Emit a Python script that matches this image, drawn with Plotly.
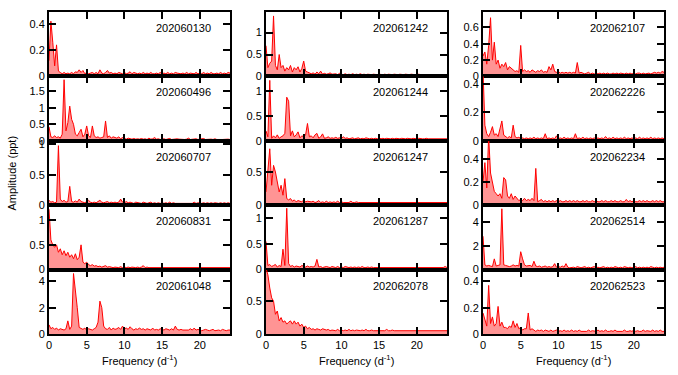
import plotly.graph_objects as go
from plotly.subplots import make_subplots

# ── Data ──────────────────────────────────────────────────────────────────────
FREQ_STEP = 0.25          # spectra sampled every 0.25 d^-1 from 0 to 24
X_TICKS = [0, 5, 10, 15, 20]

# panels are listed column by column, top to bottom
STARS = ["202060130", "202060496", "202060707", "202060831", "202061048",
         "202061242", "202061244", "202061247", "202061287", "202062078",
         "202062107", "202062226", "202062234", "202062514", "202062523"]

Y_MAX = [0.49, 1.95, 1.06, 1.3, 4.9,
         1.47, 1.3, 0.97, 1.26, 0.98,
         0.79, 0.454, 0.56, 5.4, 0.49]

Y_TICKS = [[0, 0.2, 0.4], [0, 0.5, 1, 1.5], [0, 0.5, 1], [0, 0.5, 1], [0, 2, 4],
           [0, 0.5, 1], [0, 0.5, 1], [0, 0.5], [0, 0.5, 1], [0, 0.5],
           [0, 0.2, 0.4, 0.6], [0, 0.2, 0.4], [0, 0.2, 0.4], [0, 2, 4], [0, 0.2, 0.4]]

AMP_202060130 = [
    0.12, 0.42, 0.26, 0.08, 0.24, 0.04, 0.03, 0.02, 0.03, 0.02, 0.025, 0.02,
    0.03, 0.02, 0.035, 0.03, 0.05, 0.03, 0.045, 0.02, 0.03, 0.02, 0.025, 0.03,
    0.02, 0.03, 0.02, 0.05, 0.025, 0.02, 0.03, 0.045, 0.025, 0.03, 0.02, 0.025,
    0.02, 0.03, 0.025, 0.02, 0.03, 0.02, 0.025, 0.035, 0.02, 0.03, 0.025, 0.02,
    0.025, 0.02, 0.03, 0.02, 0.025, 0.02, 0.03, 0.02, 0.02, 0.025, 0.02, 0.03,
    0.02, 0.025, 0.02, 0.03, 0.02, 0.025, 0.02, 0.03, 0.025, 0.02, 0.02, 0.025,
    0.02, 0.03, 0.02, 0.025, 0.02, 0.02, 0.03, 0.02, 0.025, 0.02, 0.03, 0.02,
    0.025, 0.02, 0.03, 0.02, 0.02, 0.025, 0.02, 0.03, 0.02, 0.025, 0.02, 0.03,
    0.025]

AMP_202060496 = [
    0.42, 0.12, 0.1, 0.15, 0.1, 0.12, 0.08, 0.2, 1.85, 0.3, 0.55, 1.05,
    0.65, 0.5, 0.2, 0.15, 0.25, 0.35, 0.12, 0.2, 0.45, 0.15, 0.1, 0.45,
    0.15, 0.1, 0.12, 0.08, 0.1, 0.12, 0.6, 0.1, 0.15, 0.08, 0.12, 0.1,
    0.08, 0.12, 0.06, 0.1, 0.07, 0.05, 0.08, 0.06, 0.05, 0.07, 0.05, 0.06,
    0.05, 0.07, 0.05, 0.06, 0.04, 0.08, 0.05, 0.06, 0.1, 0.05, 0.06, 0.04,
    0.05, 0.06, 0.04, 0.05, 0.07, 0.04, 0.05, 0.04, 0.06, 0.05, 0.04, 0.05,
    0.04, 0.05, 0.08, 0.04, 0.05, 0.04, 0.06, 0.04, 0.05, 0.04, 0.07, 0.04,
    0.05, 0.04, 0.05, 0.04, 0.06, 0.04, 0.05, 0.04, 0.04, 0.05, 0.04, 0.05,
    0.04]

AMP_202060707 = [
    0.08, 0.05, 0.06, 0.04, 0.05, 0.98, 0.1, 0.06, 0.08, 0.05, 0.06, 0.31,
    0.06, 0.05, 0.07, 0.05, 0.1, 0.06, 0.05, 0.04, 0.06, 0.08, 0.05, 0.04,
    0.05, 0.04, 0.06, 0.08, 0.05, 0.04, 0.05, 0.06, 0.04, 0.05, 0.04, 0.05,
    0.04, 0.05, 0.1, 0.05, 0.04, 0.06, 0.04, 0.05, 0.04, 0.03, 0.05, 0.04,
    0.04, 0.03, 0.05, 0.04, 0.03, 0.04, 0.05, 0.03, 0.04, 0.03, 0.04, 0.03,
    0.04, 0.03, 0.04, 0.03, 0.05, 0.03, 0.04, 0.03, 0.03, 0.04, 0.03, 0.04,
    0.03, 0.04, 0.03, 0.04, 0.03, 0.05, 0.03, 0.04, 0.03, 0.03, 0.04, 0.03,
    0.04, 0.03, 0.04, 0.03, 0.04, 0.03, 0.03, 0.04, 0.03, 0.04, 0.03, 0.04,
    0.03]

AMP_202060831 = [
    1.22, 0.6, 0.5, 0.45, 0.5, 0.35, 0.42, 0.3, 0.38, 0.28, 0.35, 0.25,
    0.3, 0.22, 0.32, 0.2, 0.25, 0.5, 0.15, 0.12, 0.15, 0.1, 0.08, 0.1,
    0.07, 0.08, 0.06, 0.07, 0.05, 0.06, 0.08, 0.05, 0.06, 0.05, 0.04, 0.05,
    0.05, 0.04, 0.06, 0.04, 0.05, 0.04, 0.05, 0.04, 0.05, 0.04, 0.04, 0.05,
    0.04, 0.05, 0.08, 0.04, 0.05, 0.04, 0.04, 0.05, 0.04, 0.04, 0.05, 0.04,
    0.04, 0.05, 0.04, 0.04, 0.05, 0.04, 0.04, 0.05, 0.04, 0.04, 0.05, 0.04,
    0.04, 0.04, 0.05, 0.04, 0.04, 0.05, 0.04, 0.04, 0.05, 0.04, 0.04, 0.05,
    0.04, 0.05, 0.04, 0.04, 0.05, 0.04, 0.04, 0.05, 0.04, 0.04, 0.05, 0.04,
    0.04]

AMP_202061048 = [
    0.7, 0.4, 0.5, 0.35, 0.45, 0.3, 0.4, 0.35, 0.3, 0.4, 1.0, 0.35,
    0.6, 4.6, 3.4, 2.0, 0.5, 0.4, 0.35, 0.45, 0.3, 0.4, 0.35, 0.3,
    0.4, 0.5, 0.9, 2.5, 2.0, 0.6, 0.4, 0.35, 0.5, 0.3, 0.45, 0.35,
    0.4, 0.5, 0.35, 0.6, 0.4, 0.45, 0.35, 0.55, 0.4, 0.3, 0.4, 0.35,
    0.45, 0.35, 0.4, 0.3, 0.4, 0.35, 0.3, 0.45, 0.3, 0.35, 0.3, 0.4,
    0.35, 0.3, 0.4, 0.35, 0.3, 0.4, 0.3, 0.6, 0.35, 0.3, 0.35, 0.3,
    0.3, 0.35, 0.3, 0.4, 0.3, 0.45, 0.3, 0.35, 0.3, 0.25, 0.3, 0.35,
    0.3, 0.25, 0.3, 0.35, 0.25, 0.3, 0.3, 0.25, 0.35, 0.3, 0.25, 0.3,
    0.3]

AMP_202061242 = [
    0.7, 0.2, 0.3, 0.35, 1.38, 0.25, 0.15, 0.5, 0.2, 0.25, 0.12, 0.2,
    0.15, 0.25, 0.1, 0.2, 0.15, 0.22, 0.1, 0.18, 0.35, 0.12, 0.1, 0.08,
    0.06, 0.08, 0.05, 0.1, 0.06, 0.12, 0.05, 0.07, 0.05, 0.06, 0.08, 0.05,
    0.05, 0.06, 0.04, 0.07, 0.05, 0.04, 0.06, 0.04, 0.05, 0.04, 0.06, 0.04,
    0.05, 0.04, 0.06, 0.04, 0.05, 0.04, 0.05, 0.04, 0.04, 0.05, 0.04, 0.04,
    0.05, 0.04, 0.04, 0.05, 0.04, 0.05, 0.04, 0.04, 0.05, 0.04, 0.04, 0.05,
    0.04, 0.04, 0.05, 0.04, 0.04, 0.05, 0.04, 0.04, 0.04, 0.05, 0.04, 0.04,
    0.05, 0.04, 0.04, 0.05, 0.04, 0.04, 0.05, 0.04, 0.04, 0.04, 0.05, 0.04,
    0.04]

AMP_202061244 = [
    0.2, 0.08, 1.22, 0.05, 0.1, 0.06, 0.12, 0.05, 0.08, 0.1, 0.15, 0.88,
    0.8, 0.1, 0.2, 0.08, 0.12, 0.18, 0.06, 0.1, 0.08, 0.12, 0.35, 0.08,
    0.1, 0.06, 0.12, 0.15, 0.05, 0.08, 0.14, 0.05, 0.06, 0.08, 0.05, 0.06,
    0.05, 0.07, 0.05, 0.06, 0.05, 0.08, 0.05, 0.06, 0.04, 0.05, 0.06, 0.04,
    0.05, 0.06, 0.04, 0.05, 0.04, 0.06, 0.05, 0.04, 0.05, 0.04, 0.05, 0.04,
    0.06, 0.04, 0.05, 0.04, 0.05, 0.04, 0.04, 0.05, 0.04, 0.05, 0.04, 0.04,
    0.05, 0.04, 0.04, 0.05, 0.04, 0.04, 0.05, 0.04, 0.04, 0.05, 0.04, 0.04,
    0.04, 0.05, 0.04, 0.04, 0.05, 0.04, 0.04, 0.04, 0.05, 0.04, 0.04, 0.05,
    0.04]

AMP_202061247 = [
    0.2, 0.6, 0.85, 0.3, 0.6, 0.5, 0.35, 0.2, 0.3, 0.15, 0.4, 0.1,
    0.08, 0.1, 0.06, 0.08, 0.05, 0.07, 0.06, 0.05, 0.08, 0.05, 0.06, 0.05,
    0.05, 0.06, 0.04, 0.05, 0.07, 0.04, 0.05, 0.04, 0.06, 0.04, 0.05, 0.04,
    0.05, 0.04, 0.06, 0.04, 0.05, 0.04, 0.04, 0.05, 0.04, 0.06, 0.04, 0.04,
    0.05, 0.04, 0.04, 0.05, 0.04, 0.04, 0.05, 0.04, 0.04, 0.04, 0.05, 0.04,
    0.04, 0.05, 0.04, 0.04, 0.04, 0.05, 0.04, 0.04, 0.05, 0.04, 0.04, 0.04,
    0.04, 0.04, 0.05, 0.04, 0.04, 0.04, 0.05, 0.04, 0.04, 0.04, 0.04, 0.05,
    0.04, 0.04, 0.04, 0.05, 0.04, 0.04, 0.04, 0.04, 0.05, 0.04, 0.04, 0.04,
    0.04]

AMP_202061287 = [
    0.55, 0.08, 0.1, 0.06, 0.08, 0.1, 0.05, 0.08, 0.06, 0.4, 0.08, 1.2,
    0.12, 0.06, 0.08, 0.05, 0.07, 0.06, 0.05, 0.08, 0.06, 0.05, 0.07, 0.05,
    0.06, 0.05, 0.07, 0.2, 0.05, 0.06, 0.04, 0.05, 0.06, 0.05, 0.04, 0.06,
    0.05, 0.04, 0.06, 0.04, 0.05, 0.04, 0.06, 0.05, 0.04, 0.05, 0.04, 0.05,
    0.04, 0.05, 0.04, 0.06, 0.04, 0.04, 0.05, 0.04, 0.05, 0.04, 0.04, 0.05,
    0.04, 0.04, 0.05, 0.04, 0.04, 0.05, 0.04, 0.04, 0.04, 0.05, 0.04, 0.04,
    0.05, 0.04, 0.04, 0.04, 0.05, 0.04, 0.04, 0.05, 0.04, 0.04, 0.04, 0.05,
    0.04, 0.04, 0.05, 0.04, 0.04, 0.04, 0.05, 0.04, 0.04, 0.05, 0.04, 0.06,
    0.04]

AMP_202062078 = [
    1.0, 0.9, 0.7, 0.55, 0.5, 0.3, 0.35, 0.2, 0.25, 0.18, 0.2, 0.15,
    0.18, 0.2, 0.15, 0.2, 0.15, 0.18, 0.12, 0.15, 0.1, 0.12, 0.08, 0.1,
    0.07, 0.08, 0.06, 0.08, 0.07, 0.06, 0.08, 0.07, 0.06, 0.07, 0.05, 0.06,
    0.06, 0.05, 0.07, 0.05, 0.06, 0.05, 0.06, 0.05, 0.07, 0.05, 0.06, 0.05,
    0.06, 0.05, 0.05, 0.06, 0.05, 0.07, 0.05, 0.05, 0.06, 0.05, 0.05, 0.06,
    0.05, 0.06, 0.05, 0.05, 0.07, 0.05, 0.05, 0.06, 0.05, 0.05, 0.06, 0.05,
    0.05, 0.06, 0.05, 0.05, 0.05, 0.06, 0.05, 0.05, 0.06, 0.05, 0.05, 0.05,
    0.06, 0.05, 0.05, 0.05, 0.06, 0.05, 0.05, 0.05, 0.06, 0.05, 0.05, 0.05,
    0.05]

AMP_202062107 = [
    0.25, 0.3, 0.15, 0.38, 0.72, 0.2, 0.42, 0.15, 0.2, 0.1, 0.15, 0.12,
    0.17, 0.08, 0.12, 0.1, 0.08, 0.06, 0.07, 0.05, 0.38, 0.06, 0.08, 0.06,
    0.07, 0.05, 0.08, 0.06, 0.05, 0.07, 0.06, 0.08, 0.05, 0.06, 0.05, 0.12,
    0.08, 0.15, 0.06, 0.05, 0.06, 0.04, 0.05, 0.04, 0.05, 0.04, 0.05, 0.04,
    0.05, 0.04, 0.17, 0.04, 0.05, 0.04, 0.03, 0.04, 0.05, 0.03, 0.04, 0.03,
    0.04, 0.03, 0.04, 0.03, 0.04, 0.03, 0.04, 0.03, 0.03, 0.04, 0.03, 0.04,
    0.03, 0.04, 0.03, 0.03, 0.04, 0.03, 0.04, 0.03, 0.04, 0.03, 0.04, 0.04,
    0.03, 0.04, 0.03, 0.04, 0.04, 0.03, 0.04, 0.05, 0.04, 0.05, 0.04, 0.06,
    0.05]

AMP_202062226 = [
    0.5, 0.11, 0.05, 0.03, 0.06, 0.1, 0.04, 0.05, 0.03, 0.08, 0.14, 0.04,
    0.03, 0.02, 0.03, 0.02, 0.11, 0.03, 0.02, 0.025, 0.015, 0.02, 0.015, 0.02,
    0.015, 0.02, 0.015, 0.025, 0.015, 0.02, 0.015, 0.02, 0.015, 0.05, 0.015, 0.02,
    0.015, 0.02, 0.015, 0.035, 0.015, 0.02, 0.015, 0.025, 0.015, 0.02, 0.015, 0.02,
    0.015, 0.05, 0.015, 0.02, 0.015, 0.025, 0.015, 0.02, 0.015, 0.02, 0.015, 0.02,
    0.015, 0.02, 0.015, 0.02, 0.015, 0.03, 0.015, 0.02, 0.015, 0.025, 0.015, 0.02,
    0.015, 0.02, 0.015, 0.025, 0.015, 0.02, 0.015, 0.02, 0.015, 0.02, 0.015, 0.025,
    0.015, 0.02, 0.015, 0.02, 0.015, 0.025, 0.015, 0.02, 0.015, 0.02, 0.015, 0.02,
    0.015]

AMP_202062234 = [
    0.2, 0.37, 0.15, 0.6, 0.28, 0.2, 0.12, 0.1, 0.08, 0.1, 0.06, 0.24,
    0.22, 0.08, 0.06, 0.1, 0.05, 0.08, 0.06, 0.04, 0.05, 0.04, 0.06, 0.04,
    0.05, 0.04, 0.06, 0.04, 0.32, 0.03, 0.04, 0.05, 0.03, 0.04, 0.03, 0.04,
    0.03, 0.04, 0.03, 0.04, 0.03, 0.04, 0.03, 0.03, 0.04, 0.03, 0.04, 0.03,
    0.04, 0.03, 0.04, 0.03, 0.03, 0.04, 0.03, 0.04, 0.03, 0.03, 0.04, 0.03,
    0.04, 0.03, 0.03, 0.04, 0.03, 0.04, 0.03, 0.03, 0.04, 0.03, 0.04, 0.03,
    0.03, 0.04, 0.03, 0.03, 0.05, 0.03, 0.04, 0.03, 0.04, 0.03, 0.03, 0.04,
    0.03, 0.04, 0.03, 0.04, 0.03, 0.03, 0.04, 0.03, 0.04, 0.03, 0.04, 0.03,
    0.03]

AMP_202062514 = [
    2.8, 0.4, 0.3, 0.35, 0.3, 0.25, 0.9, 0.3, 0.35, 0.4, 5.1, 0.4,
    0.35, 0.3, 0.25, 0.3, 0.4, 0.3, 0.35, 0.3, 1.5, 0.9, 0.4, 0.3,
    0.3, 0.35, 0.25, 0.7, 0.3, 0.25, 0.3, 0.2, 0.25, 0.3, 0.2, 0.25,
    0.2, 0.25, 0.5, 0.2, 0.25, 0.2, 0.3, 0.2, 0.5, 0.2, 0.15, 0.2,
    0.2, 0.15, 0.25, 0.2, 0.15, 0.2, 0.25, 0.15, 0.2, 0.15, 0.2, 0.25,
    0.15, 0.2, 0.15, 0.2, 0.25, 0.15, 0.2, 0.15, 0.2, 0.15, 0.25, 0.2,
    0.15, 0.2, 0.15, 0.25, 0.2, 0.15, 0.2, 0.15, 0.2, 0.25, 0.15, 0.2,
    0.15, 0.2, 0.15, 0.2, 0.15, 0.25, 0.2, 0.15, 0.2, 0.15, 0.2, 0.15,
    0.2]

AMP_202062523 = [
    0.16, 0.1, 0.06, 0.37, 0.08, 0.13, 0.06, 0.08, 0.21, 0.06, 0.09, 0.05,
    0.05, 0.04, 0.06, 0.05, 0.1, 0.05, 0.08, 0.04, 0.05, 0.03, 0.04, 0.04,
    0.16, 0.03, 0.04, 0.03, 0.02, 0.03, 0.025, 0.03, 0.02, 0.03, 0.025, 0.02,
    0.03, 0.02, 0.025, 0.03, 0.02, 0.025, 0.02, 0.03, 0.02, 0.025, 0.02, 0.03,
    0.02, 0.025, 0.02, 0.03, 0.02, 0.02, 0.025, 0.02, 0.03, 0.02, 0.025, 0.02,
    0.02, 0.03, 0.02, 0.025, 0.02, 0.03, 0.02, 0.02, 0.025, 0.02, 0.03, 0.02,
    0.02, 0.025, 0.02, 0.03, 0.02, 0.02, 0.025, 0.02, 0.03, 0.02, 0.025, 0.02,
    0.02, 0.03, 0.02, 0.025, 0.02, 0.02, 0.03, 0.02, 0.025, 0.02, 0.03, 0.02,
    0.02]

AMPS = [AMP_202060130, AMP_202060496, AMP_202060707, AMP_202060831, AMP_202061048,
        AMP_202061242, AMP_202061244, AMP_202061247, AMP_202061287, AMP_202062078,
        AMP_202062107, AMP_202062226, AMP_202062234, AMP_202062514, AMP_202062523]

# ── Style ─────────────────────────────────────────────────────────────────────
FONT = "Liberation Sans, Arial, sans-serif"
RED = "#ff0000"
W, H = 678, 375
M = dict(l=49, r=14, t=10, b=41)
PW = W - M["l"] - M["r"]
PH = H - M["t"] - M["b"]

AXIS = dict(ticks="inside", ticklen=7, tickwidth=1.5, tickcolor="black",
            showline=True, linecolor="black", linewidth=2, mirror="ticks",
            showgrid=False, zeroline=False, tickfont=dict(size=11, color="black"))

fig = make_subplots(rows=5, cols=3, horizontal_spacing=36 / PW, vertical_spacing=0)

for k, (star, amp) in enumerate(zip(STARS, AMPS)):
    row, col = k % 5 + 1, k // 5 + 1
    freq = [i * FREQ_STEP for i in range(len(amp))]
    fig.add_trace(go.Scatter(
        x=freq, y=amp, mode="lines",
        line=dict(color=RED, width=1),
        fill="tozeroy", fillcolor="rgba(255,0,0,0.42)",
        showlegend=False, hoverinfo="skip",
    ), row=row, col=col)
    fig.update_xaxes(range=[0, 24], tickvals=X_TICKS, showticklabels=(row == 5),
                     row=row, col=col, **AXIS)
    fig.update_yaxes(range=[0, Y_MAX[k]], tickvals=Y_TICKS[k],
                     row=row, col=col, **AXIS)
    fig.add_annotation(text=star, xref="x domain", yref="y domain",
                       x=0.906, y=0.75, xanchor="right", yanchor="middle",
                       showarrow=False, font=dict(size=11, color="black"),
                       row=row, col=col)

# column x-titles and shared y-title
col_w = (PW - 72) / 3
for c in range(3):
    cx = (c * (col_w + 36) + col_w / 2) / PW
    fig.add_annotation(text="Frequency (d<sup>-1</sup>)", xref="paper", yref="paper",
                       x=cx, y=(334 - 360) / PH, xanchor="center", yanchor="middle",
                       showarrow=False, font=dict(size=11, color="black"))

fig.add_annotation(text="Amplitude (ppt)", xref="paper", yref="paper",
                   x=(11.5 - M["l"]) / PW, y=0.5, textangle=-90,
                   xanchor="center", yanchor="middle", showarrow=False,
                   font=dict(size=11, color="black"))

fig.update_layout(width=W, height=H, margin=M,
                  paper_bgcolor="white", plot_bgcolor="white",
                  font=dict(family=FONT, size=11, color="black"))

# the page's default 8px body margin would shift the figure
fig.write_html("out.html", config={"displayModeBar": False},
               post_script="document.body.style.margin='0';")
